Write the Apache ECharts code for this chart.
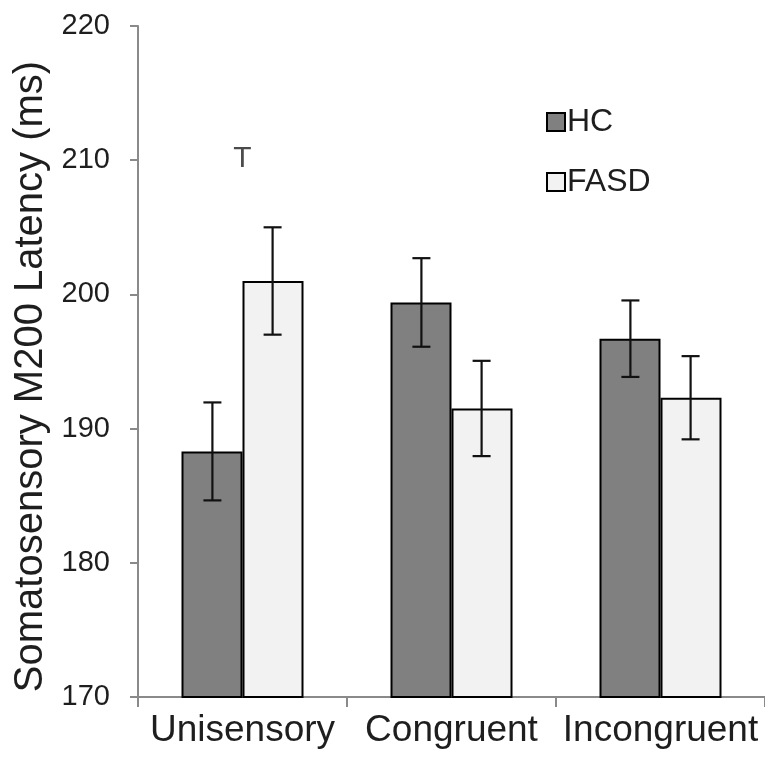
<!DOCTYPE html>
<html>
<head>
<meta charset="utf-8">
<script src="https://cdn.jsdelivr.net/npm/echarts@6/dist/echarts.min.js"></script>
<style>
  html, body { margin: 0; padding: 0; background: #fff; }
  #chart { width: 765px; height: 764px; }
</style>
</head>
<body>
<div id="chart"></div>
<script>
// categories and values
const categories = ['Unisensory', 'Congruent', 'Incongruent']
const hcMeans = [188.3, 199.4, 196.7]
const hcErr = [3.65, 3.3, 2.85]
const fasdMeans = [201.0, 191.5, 192.3]
const fasdErr = [4.0, 3.55, 3.1]
// y axis ticks
const yMin = 170
const yMax = 220
const yStep = 10
// the "T" (trend) note above Unisensory
const trendNote = [[0, 210.1]]

const font = 'Liberation Sans, Arial, sans-serif'
const textColor = '#1e1e1e'

// low/high pairs for the error bars
function errRows(means, errs) {
  return means.map((m, i) => [i, m - errs[i], m + errs[i]])
}

// side: fraction of the band to shift from the category centre
function errorBar(side) {
  return function (params, api) {
    const band = api.size([1, 0])[0]
    const top = api.coord([api.value(0), api.value(2)])
    const bot = api.coord([api.value(0), api.value(1)])
    const x = top[0] + band * side
    const half = 9
    const style = { stroke: '#111', lineWidth: 2.2 }
    return {
      type: 'group',
      children: [
        { type: 'line', shape: { x1: x, y1: top[1], x2: x, y2: bot[1] }, style: style },
        { type: 'line', shape: { x1: x - half, y1: top[1], x2: x + half, y2: top[1] }, style: style },
        { type: 'line', shape: { x1: x - half, y1: bot[1], x2: x + half, y2: bot[1] }, style: style }
      ]
    }
  }
}

const myChart = echarts.init(document.getElementById('chart'))
myChart.setOption({
  animation: false,
  backgroundColor: '#fff',
  textStyle: { fontFamily: font },
  grid: {
    left: 138,
    top: 26,
    width: 636,
    bottom: 67
  },
  legend: {
    data: ['HC', 'FASD'],
    orient: 'vertical',
    left: 541,
    top: 101,
    itemWidth: 18,
    itemHeight: 18,
    itemGap: 28,
    icon: 'rect',
    textStyle: { fontSize: 32, color: textColor, fontFamily: font, padding: [0, 0, 0, -3] }
  },
  xAxis: {
    type: 'category',
    data: categories,
    axisLine: { lineStyle: { color: '#8a8a8a', width: 2 } },
    axisTick: { show: true, length: 10, lineStyle: { color: '#8a8a8a', width: 2 } },
    axisLabel: { interval: 0, fontSize: 37, color: textColor, margin: 15, fontFamily: font }
  },
  yAxis: {
    type: 'value',
    min: yMin,
    max: yMax,
    interval: yStep,
    name: 'Somatosensory M200 Latency (ms)',
    nameLocation: 'middle',
    nameRotate: 90,
    nameGap: 84,
    nameTextStyle: { fontSize: 40, color: textColor, fontFamily: font, padding: [0, 30, 0, 0] },
    splitLine: { show: false },
    axisLine: { show: true, lineStyle: { color: '#8a8a8a', width: 2 } },
    axisTick: { show: true, length: 8, lineStyle: { color: '#8a8a8a', width: 2 } },
    axisLabel: { fontSize: 29, color: textColor, margin: 28, fontFamily: font }
  },
  series: [
    {
      name: 'HC',
      type: 'bar',
      data: hcMeans,
      barWidth: 61,
      barGap: '0%',
      itemStyle: { color: '#808080', borderColor: '#000', borderWidth: 2 }
    },
    {
      name: 'FASD',
      type: 'bar',
      data: fasdMeans,
      barWidth: 61,
      barGap: '0%',
      itemStyle: { color: '#f2f2f2', borderColor: '#000', borderWidth: 2 }
    },
    {
      type: 'custom',
      renderItem: errorBar(-0.144),
      data: errRows(hcMeans, hcErr),
      encode: { x: 0, y: [1, 2] },
      z: 10
    },
    {
      type: 'custom',
      renderItem: errorBar(0.144),
      data: errRows(fasdMeans, fasdErr),
      encode: { x: 0, y: [1, 2] },
      z: 10
    },
    {
      type: 'scatter',
      data: trendNote,
      symbolSize: 1,
      itemStyle: { color: 'transparent' },
      label: {
        show: true,
        position: 'inside',
        formatter: 'T',
        fontSize: 30,
        color: textColor,
        fontFamily: font
      },
      silent: true
    }
  ]
})
</script>
</body>
</html>
